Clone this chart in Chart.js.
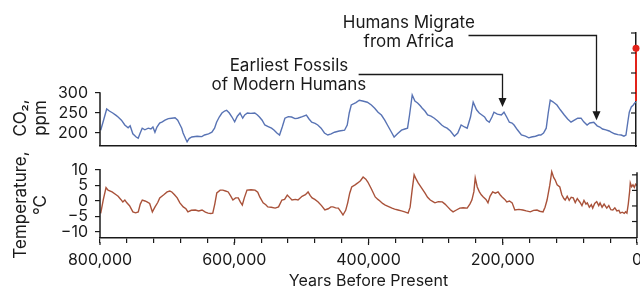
<!DOCTYPE html>
<html>
<head>
<meta charset="utf-8">
<script src="https://cdn.jsdelivr.net/npm/chart.js@4/dist/chart.umd.min.js"></script>
<style>
  html, body { margin: 0; padding: 0; background: #fff; }
  #wrap { position: relative; width: 640px; height: 289px; overflow: hidden; }
  #co2Chart { position: absolute; left: 0; top: 0; }
  #tempChart { position: absolute; left: 0; top: 150px; }
</style>
</head>
<body>
<div id="wrap">
  <canvas id="tempChart" width="640" height="139"></canvas>
  <canvas id="co2Chart" width="640" height="160"></canvas>
</div>
<script>
// ---- data (x in thousands of years before present) ----
const co2Series = [
  [799,207],[795,230],[790,260],[786,255],[781,250],[776,244],[773,240],[768,232],[763,220],[758,213],
  [755,218],[751,198],[746,190],[743,187],[740,200],[737,212],[733,208],[728,212],[724,210],[721,215],
  [718,202],[715,215],[711,225],[707,228],[703,232],[698,236],[693,237],[688,238],[684,232],[681,222],
  [678,212],[676,200],[672,185],[670,178],[667,186],[663,190],[655,192],[648,191],[644,195],[638,198],
  [633,202],[629,212],[626,227],[622,240],[618,250],[614,255],[611,257],[607,250],[603,240],[599,228],
  [595,242],[591,250],[587,237],[584,245],[580,250],[575,249],[569,250],[565,245],[562,240],[558,232],
  [554,220],[549,216],[544,212],[540,207],[536,200],[532,195],[528,215],[524,237],[519,241],[514,240],
  [509,236],[505,237],[498,241],[492,245],[488,235],[484,227],[479,224],[475,220],[470,212],[465,200],
  [460,195],[455,198],[450,202],[443,205],[435,207],[431,220],[428,250],[425,270],[418,276],[413,282],
  [408,280],[401,277],[395,270],[390,262],[385,252],[380,245],[375,232],[371,220],[366,205],[361,190],
  [356,198],[350,207],[345,210],[341,212],[338,245],[334,295],[330,280],[326,275],[322,268],[319,262],
  [315,255],[311,245],[306,242],[301,237],[296,230],[290,220],[286,215],[282,212],[277,205],[271,192],
  [266,200],[261,220],[256,215],[252,212],[247,240],[243,277],[238,258],[234,250],[230,245],[226,240],
  [223,232],[219,227],[215,240],[212,252],[207,247],[201,245],[197,252],[193,240],[189,227],[185,225],
  [182,220],[177,208],[171,195],[165,192],[160,188],[156,190],[150,192],[145,195],[142,195],[138,200],
  [134,212],[131,250],[128,282],[124,278],[118,270],[113,258],[107,245],[102,235],[97,227],[92,232],
  [87,237],[82,237],[78,228],[73,220],[69,225],[63,227],[58,218],[54,215],[50,210],[45,208],
  [40,205],[37,202],[32,198],[27,196],[22,195],[18,192],[15,195],[12,230],[10,252],[7,265],
  [4,270],[2,275],[0,277]
];
const modernCo2 = [[0,280],[0,412]];

const tempSeries = [
  [799,-4.0],[795,0.5],[791,4.3],[788,3.5],[782,2.9],[776,2.0],[773,1.5],[769,0.5],[766,-0.3],[763,0.3],
  [760,-0.6],[756,-1.5],[751,-3.5],[747,-3.8],[743,-3.5],[740,-1.0],[737,0.3],[733,0.0],[730,-0.3],[726,-0.8],
  [722,-3.5],[718,-1.9],[714,-0.5],[711,1.0],[705,2.0],[700,2.9],[696,3.2],[693,2.9],[689,2.0],[685,1.0],
  [681,-0.6],[676,-1.9],[672,-2.5],[669,-3.5],[664,-3.0],[658,-2.9],[653,-3.2],[648,-2.9],[643,-3.6],[639,-3.9],
  [635,-4.0],[632,-3.9],[629,-1.0],[626,2.6],[621,3.5],[617,3.5],[613,3.2],[609,2.9],[605,1.5],[602,0.3],
  [598,1.0],[594,1.0],[591,-0.3],[588,-1.3],[585,1.0],[581,3.5],[575,3.6],[569,3.5],[565,2.8],[562,1.3],
  [557,-0.6],[553,-1.2],[550,-1.9],[545,-2.0],[539,-2.3],[534,-1.9],[529,0.3],[525,0.5],[521,1.9],[517,1.0],
  [514,0.3],[509,0.5],[505,0.3],[499,1.5],[494,2.0],[490,2.9],[487,1.8],[484,1.0],[480,0.5],[475,-0.3],
  [470,-1.5],[465,-2.9],[460,-2.5],[456,-1.9],[453,-1.9],[449,-2.2],[445,-2.3],[441,-3.5],[438,-4.5],[434,-3.0],
  [431,-0.6],[428,2.5],[425,4.5],[420,5.2],[416,5.8],[412,6.5],[408,7.7],[404,7.0],[401,6.1],[396,4.0],
  [390,1.3],[386,0.5],[383,0.0],[379,-0.8],[375,-1.3],[370,-1.8],[365,-2.3],[361,-2.6],[356,-2.9],[351,-3.2],
  [346,-3.5],[341,-3.9],[338,-2.0],[335,3.5],[332,8.4],[329,7.0],[326,5.8],[321,4.2],[316,2.6],[312,1.2],
  [308,0.3],[304,-0.2],[301,-0.6],[296,-0.2],[290,-0.3],[286,-1.0],[282,-1.9],[278,-2.8],[274,-3.5],[269,-2.9],
  [264,-2.3],[259,-2.2],[253,-2.3],[249,-1.0],[246,0.3],[243,3.0],[241,7.4],[238,4.5],[235,3.0],[232,2.0],
  [229,1.3],[225,0.5],[222,-0.6],[219,1.5],[215,2.9],[211,2.5],[207,2.9],[204,2.0],[201,1.3],[197,0.5],
  [194,-0.3],[190,0.0],[186,-0.6],[182,-2.9],[176,-2.7],[170,-2.9],[165,-3.2],[159,-3.5],[154,-3.0],[149,-2.9],
  [145,-3.3],[140,-3.5],[137,-2.0],[134,0.3],[130,5.0],[127,9.4],[124,7.5],[122,6.8],[119,5.2],[115,4.5],
  [112,2.0],[109,0.8],[107,0.3],[104,1.5],[101,0.2],[98,1.2],[95,1.0],[92,-0.5],[89,0.8],[85,-0.4],
  [82,-1.5],[79,0.2],[76,-1.0],[74,-0.6],[71,-2.0],[68,-1.2],[66,-2.3],[63,-0.8],[60,-0.2],[57,-1.5],
  [55,-0.6],[52,-2.0],[49,-1.0],[45,-2.3],[42,-1.5],[39,-2.8],[36,-2.9],[33,-2.2],[30,-3.2],[27,-3.0],
  [25,-3.9],[22,-3.6],[19,-4.0],[17,-3.5],[15,-3.9],[13,-1.0],[11,3.0],[10,5.8],[8,4.6],[6,5.2],
  [4,4.4],[2,5.4],[0,5.0]
];

const xLabelKa = [800, 600, 400, 200, 0];
const co2LeftTicks = [200, 250, 300];
const co2RightTicks = [200, 250, 300, 350, 400, 450];
const tempLeftTicks = [10, 5, 0, -5, -10];
const tempRightTicks = [8.4, 3.4, -1.6, -6.6];

const annotations = [
  { lines: ['Humans Migrate', 'from Africa'], textKa: 339, textCo2: [475, 427.5],
    startKa: 250, elbowCo2: 445, ka: 60, tipCo2: 232 },
  { lines: ['Earliest Fossils', 'of Modern Humans'], textKa: 518, textCo2: [367.5, 321],
    startKa: 414, elbowCo2: 347.5, ka: 200, tipCo2: 265 }
];

// ---- styling ----
const INK = '#1a1a1a';
const FONT = 'Inter, "Liberation Sans", sans-serif';
const CO2_BLUE = '#5873b4';
const TEMP_RED = '#a9523a';
const MODERN_RED = '#e2231a';
Chart.defaults.font.family = FONT;
Chart.defaults.color = INK;

const tickFont = { size: 16, family: FONT };
const minus = v => String(v).replace('-', '\u2212');

function rotatedTitle(ctx, lines, xs, cy) {
  ctx.save();
  ctx.fillStyle = INK;
  ctx.font = '17px ' + FONT;
  ctx.textAlign = 'center';
  ctx.textBaseline = 'middle';
  lines.forEach((t, i) => {
    ctx.save();
    ctx.translate(xs[i], cy);
    ctx.rotate(-Math.PI / 2);
    ctx.fillText(t, 0, 0);
    ctx.restore();
  });
  ctx.restore();
}

function fixWidth(w) {
  return s => { s.width = w; s.paddingTop = 0; s.paddingBottom = 0; };
}

// ---- CO2 panel ----
const co2Extras = {
  id: 'co2Extras',
  afterDraw(chart) {
    const { ctx, chartArea: a, scales: { x, y } } = chart;
    ctx.save();
    ctx.strokeStyle = INK;
    ctx.lineWidth = 1.5;
    ctx.beginPath();
    ctx.moveTo(a.left, y.getPixelForValue(co2LeftTicks[co2LeftTicks.length - 1]) - 0.75);
    ctx.lineTo(a.left, a.bottom);
    ctx.stroke();

    ctx.lineWidth = 1.2;
    co2RightTicks.forEach(v => {
      const py = y.getPixelForValue(v);
      ctx.beginPath();
      ctx.moveTo(a.right - 5, py);
      ctx.lineTo(a.right, py);
      ctx.stroke();
    });

    // annotations with elbow arrows
    ctx.font = '17px ' + FONT;
    ctx.fillStyle = INK;
    ctx.textAlign = 'center';
    ctx.textBaseline = 'middle';
    annotations.forEach(an => {
      an.lines.forEach((t, i) => {
        ctx.fillText(t, x.getPixelForValue(an.textKa), y.getPixelForValue(an.textCo2[i]));
      });
      const ey = Math.round(y.getPixelForValue(an.elbowCo2)) + 0.5;
      const tx = Math.round(x.getPixelForValue(an.ka)) + 0.5;
      const ty = y.getPixelForValue(an.tipCo2);
      ctx.lineWidth = 1.3;
      ctx.beginPath();
      ctx.moveTo(x.getPixelForValue(an.startKa), ey);
      ctx.lineTo(tx, ey);
      ctx.lineTo(tx, ty - 6);
      ctx.stroke();
      ctx.beginPath();
      ctx.moveTo(tx, ty);
      ctx.lineTo(tx - 4, ty - 9);
      ctx.lineTo(tx + 4, ty - 9);
      ctx.closePath();
      ctx.fill();
    });

    rotatedTitle(ctx, ['CO\u2082,', 'ppm'], [21, 41], 118);
    ctx.restore();
  }
};

new Chart(document.getElementById('co2Chart'), {
  type: 'line',
  data: {
    datasets: [
      {
        data: co2Series.map(([ka, ppm]) => ({ x: ka, y: ppm })),
        borderColor: CO2_BLUE, borderWidth: 1.4, pointRadius: 0, tension: 0
      },
      {
        data: modernCo2.map(([ka, ppm]) => ({ x: ka, y: ppm })),
        borderColor: MODERN_RED, borderWidth: 2, backgroundColor: MODERN_RED,
        pointRadius: [0, 3.5], pointBorderWidth: 0, tension: 0, clip: false
      }
    ]
  },
  options: {
    responsive: false,
    animation: false,
    layout: { padding: { top: 33, left: 0, right: 0, bottom: 0 } },
    plugins: { legend: { display: false }, tooltip: { enabled: false } },
    scales: {
      x: {
        type: 'linear', reverse: true, min: 0, max: 800,
        ticks: { display: false },
        grid: { display: false },
        border: { color: INK, width: 1.5 },
        afterFit: s => { s.height = 14; s.paddingLeft = 0; s.paddingRight = 0; }
      },
      y: {
        position: 'left', min: 167.5, max: 450,
        afterBuildTicks: s => { s.ticks = co2LeftTicks.map(v => ({ value: v })); },
        ticks: { font: tickFont, color: INK, padding: 7, autoSkip: false },
        grid: { drawOnChartArea: false, tickLength: 5, color: INK, lineWidth: 1.2 },
        border: { display: false },
        afterFit: fixWidth(100)
      },
      yR: {
        position: 'right', min: 167.5, max: 450,
        ticks: { display: false },
        grid: { display: false },
        border: { color: INK, width: 1.5 },
        afterFit: fixWidth(3)
      }
    }
  },
  plugins: [co2Extras]
});

// ---- temperature panel ----
const tempExtras = {
  id: 'tempExtras',
  afterDraw(chart) {
    const { ctx, chartArea: a, scales: { x, y } } = chart;
    ctx.save();
    ctx.strokeStyle = INK;
    ctx.lineWidth = 1.5;
    ctx.beginPath();
    ctx.moveTo(a.left, y.getPixelForValue(tempLeftTicks[0]) - 0.75);
    ctx.lineTo(a.left, a.bottom);
    ctx.stroke();
    ctx.beginPath();
    ctx.moveTo(a.right, y.getPixelForValue(tempRightTicks[0] + 0.8));
    ctx.lineTo(a.right, a.bottom);
    ctx.stroke();

    ctx.lineWidth = 1.2;
    tempRightTicks.forEach(v => {
      const py = y.getPixelForValue(v);
      ctx.beginPath();
      ctx.moveTo(a.right - 5, py);
      ctx.lineTo(a.right, py);
      ctx.stroke();
    });
    // longer ticks under the labelled years
    xLabelKa.forEach(v => {
      const px = x.getPixelForValue(v);
      ctx.beginPath();
      ctx.moveTo(px, a.bottom + 4);
      ctx.lineTo(px, a.bottom + 7);
      ctx.stroke();
    });

    rotatedTitle(ctx, ['Temperature,', '\u00B0C'], [21, 41], 55);
    ctx.restore();
  }
};

new Chart(document.getElementById('tempChart'), {
  type: 'line',
  data: {
    datasets: [{
      data: tempSeries.map(([ka, t]) => ({ x: ka, y: t })),
      borderColor: TEMP_RED, borderWidth: 1.4, pointRadius: 0, tension: 0
    }]
  },
  options: {
    responsive: false,
    animation: false,
    layout: { padding: { top: 18, left: 0, right: 0, bottom: 0 } },
    plugins: { legend: { display: false }, tooltip: { enabled: false } },
    scales: {
      x: {
        type: 'linear', reverse: true, min: 0, max: 800,
        afterBuildTicks: s => {
          const t = [];
          for (let v = 0; v <= 800; v += 40) t.push({ value: v });
          s.ticks = t;
        },
        ticks: {
          font: tickFont, color: INK, padding: 8, autoSkip: false, maxRotation: 0, minRotation: 0,
          callback: v => xLabelKa.includes(v) ? (v * 1000).toLocaleString('en-US') : ''
        },
        grid: { drawOnChartArea: false, tickLength: 5, color: INK, lineWidth: 1.2 },
        border: { color: INK, width: 1.5 },
        title: {
          display: true, text: 'Years Before Present', color: INK,
          font: { size: 16, family: FONT, lineHeight: 1 }, padding: { top: 0, bottom: 0 }
        },
        afterFit: s => { s.height = 51; s.paddingLeft = 0; s.paddingRight = 0; }
      },
      y: {
        position: 'left', min: -11.9, max: 10.6,
        afterBuildTicks: s => { s.ticks = tempLeftTicks.map(v => ({ value: v })); },
        ticks: { font: tickFont, color: INK, padding: 7, autoSkip: false, callback: v => minus(v) },
        grid: { drawOnChartArea: false, tickLength: 5, color: INK, lineWidth: 1.2 },
        border: { display: false },
        afterFit: fixWidth(100)
      },
      yR: {
        position: 'right', min: -11.9, max: 10.6,
        ticks: { display: false },
        grid: { display: false },
        border: { display: false },
        afterFit: fixWidth(3)
      }
    }
  },
  plugins: [tempExtras]
});
</script>
</body>
</html>
